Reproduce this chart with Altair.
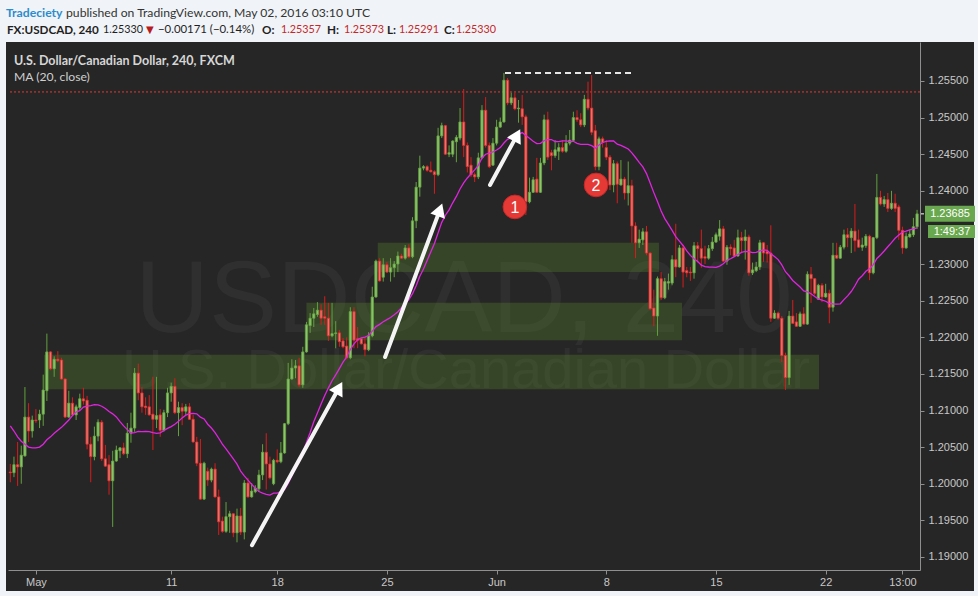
import altair as alt
import pandas as pd

# ---------------------------------------------------------------
# FX:USDCAD, 240 (4-hour) candles, bar index 0 = first bar shown
# ---------------------------------------------------------------
opens = [
    1.2016, 1.2015, 1.2026, 1.2023, 1.2038, 1.2091, 1.2072, 1.2087, 1.2087, 1.2095,
    1.2127, 1.2180, 1.2157, 1.2170, 1.2169, 1.2143, 1.2091, 1.2110, 1.2094, 1.2104,
    1.2116, 1.2114, 1.2054, 1.2037, 1.2065, 1.2084, 1.2034, 1.2026, 1.2004, 1.2031,
    1.2045, 1.2049, 1.2041, 1.2069, 1.2076, 1.2151, 1.2124, 1.2106, 1.2105, 1.2095,
    1.2088, 1.2094, 1.2073, 1.2097, 1.2124, 1.2133, 1.2097, 1.2104, 1.2099, 1.2105,
    1.2088, 1.2057, 1.2028, 1.1979, 1.2017, 1.2005, 1.2020, 1.1982, 1.1949, 1.1935,
    1.1955, 1.1959, 1.1933, 1.1956, 1.1934, 1.2001, 1.1982, 1.1989, 1.1993, 1.2012,
    1.2043, 1.2027, 1.2000, 1.2032, 1.2030, 1.2042, 1.2082, 1.2143, 1.2158, 1.2161,
    1.2135, 1.2180, 1.2216, 1.2226, 1.2231, 1.2237, 1.2228, 1.2226, 1.2202, 1.2205,
    1.2206, 1.2195, 1.2188, 1.2172, 1.2235, 1.2198, 1.2198, 1.2191, 1.2183, 1.2202,
    1.2255, 1.2304, 1.2282, 1.2299, 1.2289, 1.2295, 1.2300, 1.2311, 1.2308, 1.2322,
    1.2310, 1.2359, 1.2405, 1.2431, 1.2433, 1.2428, 1.2426, 1.2422, 1.2475, 1.2489,
    1.2450, 1.2450, 1.2467, 1.2472, 1.2494, 1.2462, 1.2435, 1.2422, 1.2419, 1.2445,
    1.2510, 1.2462, 1.2435, 1.2465, 1.2487, 1.2494, 1.2551, 1.2520, 1.2527, 1.2512,
    1.2512, 1.2501, 1.2385, 1.2398, 1.2416, 1.2398, 1.2438, 1.2497, 1.2452, 1.2448,
    1.2454, 1.2459, 1.2454, 1.2465, 1.2469, 1.2500, 1.2497, 1.2490, 1.2525, 1.2513,
    1.2482, 1.2433, 1.2471, 1.2459, 1.2446, 1.2408, 1.2437, 1.2408, 1.2416, 1.2397,
    1.2407, 1.2352, 1.2329, 1.2333, 1.2344, 1.2315, 1.2240, 1.2229, 1.2280, 1.2254,
    1.2274, 1.2274, 1.2306, 1.2296, 1.2322, 1.2291, 1.2289, 1.2288, 1.2325, 1.2321,
    1.2310, 1.2308, 1.2321, 1.2330, 1.2338, 1.2348, 1.2304, 1.2323, 1.2322, 1.2311,
    1.2336, 1.2332, 1.2337, 1.2288, 1.2291, 1.2296, 1.2329, 1.2317, 1.2315, 1.2226,
    1.2233, 1.2226, 1.2175, 1.2145, 1.2229, 1.2221, 1.2215, 1.2232, 1.2218, 1.2286,
    1.2280, 1.2252, 1.2271, 1.2255, 1.2260, 1.2241, 1.2312, 1.2308, 1.2323, 1.2340,
    1.2336, 1.2345, 1.2333, 1.2323, 1.2325, 1.2338, 1.2288, 1.2336, 1.2391, 1.2382,
    1.2388, 1.2376, 1.2383, 1.2378, 1.2346, 1.2322, 1.2337, 1.2340, 1.2351,
]
highs = [
    1.2027, 1.2037, 1.2057, 1.2052, 1.2132, 1.2110, 1.2093, 1.2102, 1.2101, 1.2149,
    1.2205, 1.2181, 1.2174, 1.2181, 1.2172, 1.2144, 1.2127, 1.2118, 1.2108, 1.2123,
    1.2131, 1.2120, 1.2064, 1.2078, 1.2088, 1.2087, 1.2053, 1.2039, 1.2045, 1.2052,
    1.2050, 1.2056, 1.2083, 1.2097, 1.2158, 1.2164, 1.2132, 1.2118, 1.2121, 1.2146,
    1.2146, 1.2102, 1.2101, 1.2131, 1.2138, 1.2144, 1.2112, 1.2110, 1.2109, 1.2110,
    1.2094, 1.2064, 1.2061, 1.2030, 1.2022, 1.2022, 1.2028, 1.1992, 1.1955, 1.1975,
    1.1963, 1.1960, 1.1966, 1.1967, 1.2005, 1.2008, 1.2001, 1.1998, 1.2019, 1.2054,
    1.2069, 1.2037, 1.2034, 1.2047, 1.2057, 1.2083, 1.2165, 1.2170, 1.2169, 1.2172,
    1.2187, 1.2221, 1.2233, 1.2240, 1.2248, 1.2245, 1.2256, 1.2247, 1.2247, 1.2222,
    1.2210, 1.2199, 1.2200, 1.2241, 1.2241, 1.2214, 1.2200, 1.2200, 1.2207, 1.2269,
    1.2306, 1.2308, 1.2308, 1.2303, 1.2308, 1.2304, 1.2317, 1.2314, 1.2326, 1.2327,
    1.2364, 1.2412, 1.2448, 1.2435, 1.2435, 1.2440, 1.2428, 1.2486, 1.2493, 1.2490,
    1.2462, 1.2469, 1.2476, 1.2513, 1.2539, 1.2466, 1.2446, 1.2425, 1.2452, 1.2517,
    1.2528, 1.2466, 1.2472, 1.2497, 1.2500, 1.2561, 1.2554, 1.2534, 1.2534, 1.2524,
    1.2531, 1.2504, 1.2418, 1.2419, 1.2445, 1.2445, 1.2504, 1.2508, 1.2456, 1.2469,
    1.2465, 1.2469, 1.2476, 1.2483, 1.2508, 1.2510, 1.2506, 1.2531, 1.2549, 1.2558,
    1.2490, 1.2474, 1.2474, 1.2469, 1.2449, 1.2442, 1.2440, 1.2442, 1.2419, 1.2440,
    1.2415, 1.2357, 1.2347, 1.2349, 1.2352, 1.2316, 1.2265, 1.2283, 1.2289, 1.2281,
    1.2287, 1.2312, 1.2355, 1.2326, 1.2326, 1.2296, 1.2296, 1.2330, 1.2330, 1.2347,
    1.2325, 1.2326, 1.2337, 1.2343, 1.2360, 1.2352, 1.2326, 1.2327, 1.2333, 1.2347,
    1.2344, 1.2347, 1.2340, 1.2302, 1.2303, 1.2333, 1.2330, 1.2326, 1.2353, 1.2237,
    1.2235, 1.2229, 1.2179, 1.2236, 1.2251, 1.2233, 1.2235, 1.2241, 1.2290, 1.2296,
    1.2281, 1.2273, 1.2274, 1.2273, 1.2265, 1.2329, 1.2329, 1.2326, 1.2347, 1.2349,
    1.2349, 1.2382, 1.2347, 1.2336, 1.2341, 1.2340, 1.2337, 1.2423, 1.2400, 1.2393,
    1.2397, 1.2400, 1.2396, 1.2381, 1.2351, 1.2343, 1.2347, 1.2363, 1.2374,
]
lows = [
    1.2002, 1.2009, 1.1997, 1.2000, 1.2037, 1.2057, 1.2063, 1.2083, 1.2076, 1.2079,
    1.2113, 1.2155, 1.2146, 1.2166, 1.2142, 1.2090, 1.2090, 1.2093, 1.2087, 1.2101,
    1.2108, 1.2047, 1.2002, 1.2032, 1.2058, 1.2031, 1.2023, 1.1985, 1.1941, 1.2030,
    1.2035, 1.2039, 1.2035, 1.2056, 1.2071, 1.2114, 1.2097, 1.2094, 1.2093, 1.2046,
    1.2076, 1.2064, 1.2071, 1.2091, 1.2112, 1.2095, 1.2065, 1.2080, 1.2094, 1.2087,
    1.2056, 1.2024, 1.1978, 1.1978, 1.1997, 1.2002, 1.1981, 1.1930, 1.1933, 1.1933,
    1.1933, 1.1927, 1.1920, 1.1930, 1.1924, 1.1981, 1.1981, 1.1987, 1.1989, 1.2005,
    1.1992, 1.2006, 1.1998, 1.2028, 1.2028, 1.2041, 1.2080, 1.2142, 1.2144, 1.2132,
    1.2131, 1.2179, 1.2206, 1.2214, 1.2228, 1.2217, 1.2217, 1.2195, 1.2200, 1.2185,
    1.2187, 1.2185, 1.2170, 1.2170, 1.2185, 1.2185, 1.2190, 1.2174, 1.2181, 1.2200,
    1.2254, 1.2276, 1.2276, 1.2288, 1.2276, 1.2282, 1.2289, 1.2307, 1.2306, 1.2308,
    1.2308, 1.2349, 1.2392, 1.2428, 1.2426, 1.2425, 1.2396, 1.2420, 1.2472, 1.2449,
    1.2446, 1.2446, 1.2439, 1.2469, 1.2446, 1.2425, 1.2419, 1.2412, 1.2416, 1.2443,
    1.2459, 1.2431, 1.2434, 1.2462, 1.2486, 1.2493, 1.2517, 1.2517, 1.2510, 1.2493,
    1.2490, 1.2367, 1.2383, 1.2397, 1.2397, 1.2397, 1.2435, 1.2442, 1.2428, 1.2445,
    1.2442, 1.2452, 1.2452, 1.2462, 1.2467, 1.2494, 1.2487, 1.2487, 1.2510, 1.2476,
    1.2428, 1.2428, 1.2459, 1.2442, 1.2401, 1.2398, 1.2383, 1.2407, 1.2388, 1.2380,
    1.2329, 1.2308, 1.2322, 1.2326, 1.2312, 1.2237, 1.2215, 1.2202, 1.2251, 1.2252,
    1.2265, 1.2271, 1.2282, 1.2295, 1.2268, 1.2282, 1.2277, 1.2280, 1.2302, 1.2295,
    1.2300, 1.2306, 1.2318, 1.2329, 1.2332, 1.2303, 1.2299, 1.2312, 1.2310, 1.2310,
    1.2315, 1.2306, 1.2284, 1.2285, 1.2289, 1.2292, 1.2303, 1.2302, 1.2221, 1.2225,
    1.2224, 1.2166, 1.2128, 1.2135, 1.2218, 1.2214, 1.2214, 1.2217, 1.2217, 1.2247,
    1.2257, 1.2251, 1.2248, 1.2254, 1.2219, 1.2235, 1.2307, 1.2307, 1.2320, 1.2323,
    1.2315, 1.2317, 1.2322, 1.2318, 1.2322, 1.2278, 1.2286, 1.2334, 1.2380, 1.2378,
    1.2371, 1.2374, 1.2371, 1.2333, 1.2314, 1.2321, 1.2336, 1.2337, 1.2348,
]
closes = [
    1.2015, 1.2026, 1.2023, 1.2039, 1.2091, 1.2072, 1.2087, 1.2086, 1.2095, 1.2128,
    1.2180, 1.2157, 1.2170, 1.2168, 1.2143, 1.2091, 1.2110, 1.2094, 1.2105, 1.2116,
    1.2113, 1.2054, 1.2037, 1.2065, 1.2084, 1.2034, 1.2024, 1.2004, 1.2031, 1.2046,
    1.2049, 1.2041, 1.2069, 1.2076, 1.2151, 1.2124, 1.2105, 1.2104, 1.2094, 1.2088,
    1.2093, 1.2073, 1.2097, 1.2124, 1.2133, 1.2097, 1.2104, 1.2099, 1.2105, 1.2088,
    1.2057, 1.2028, 1.1979, 1.2028, 1.2005, 1.2020, 1.1982, 1.1948, 1.1935, 1.1955,
    1.1959, 1.1933, 1.1956, 1.1934, 1.2001, 1.1982, 1.1990, 1.1994, 1.2012, 1.2043,
    1.2027, 1.2008, 1.2032, 1.2030, 1.2042, 1.2082, 1.2143, 1.2158, 1.2161, 1.2135,
    1.2180, 1.2217, 1.2226, 1.2232, 1.2237, 1.2226, 1.2226, 1.2202, 1.2205, 1.2206,
    1.2194, 1.2187, 1.2172, 1.2235, 1.2196, 1.2196, 1.2191, 1.2183, 1.2202, 1.2255,
    1.2304, 1.2277, 1.2299, 1.2289, 1.2295, 1.2300, 1.2311, 1.2308, 1.2322, 1.2310,
    1.2359, 1.2405, 1.2431, 1.2433, 1.2428, 1.2426, 1.2422, 1.2475, 1.2489, 1.2450,
    1.2452, 1.2468, 1.2473, 1.2494, 1.2462, 1.2433, 1.2422, 1.2419, 1.2445, 1.2510,
    1.2462, 1.2433, 1.2465, 1.2487, 1.2494, 1.2551, 1.2520, 1.2527, 1.2512, 1.2513,
    1.2501, 1.2385, 1.2398, 1.2415, 1.2398, 1.2438, 1.2497, 1.2446, 1.2448, 1.2456,
    1.2459, 1.2454, 1.2465, 1.2469, 1.2500, 1.2497, 1.2490, 1.2525, 1.2513, 1.2480,
    1.2433, 1.2471, 1.2466, 1.2446, 1.2408, 1.2437, 1.2409, 1.2416, 1.2397, 1.2407,
    1.2352, 1.2329, 1.2334, 1.2344, 1.2315, 1.2239, 1.2229, 1.2280, 1.2254, 1.2276,
    1.2276, 1.2306, 1.2296, 1.2322, 1.2289, 1.2288, 1.2288, 1.2325, 1.2321, 1.2308,
    1.2308, 1.2321, 1.2330, 1.2340, 1.2348, 1.2304, 1.2323, 1.2321, 1.2311, 1.2336,
    1.2332, 1.2337, 1.2288, 1.2292, 1.2296, 1.2329, 1.2315, 1.2314, 1.2226, 1.2233,
    1.2226, 1.2175, 1.2145, 1.2229, 1.2219, 1.2215, 1.2232, 1.2218, 1.2286, 1.2280,
    1.2260, 1.2271, 1.2255, 1.2260, 1.2241, 1.2312, 1.2308, 1.2323, 1.2340, 1.2336,
    1.2345, 1.2332, 1.2323, 1.2326, 1.2338, 1.2288, 1.2336, 1.2391, 1.2382, 1.2388,
    1.2376, 1.2383, 1.2376, 1.2346, 1.2322, 1.2338, 1.2341, 1.2351, 1.23685,
]

# MA(20, close) for the first 19 bars (their window reaches back before bar 0)
ma_lead = [
    1.2079, 1.2072, 1.2064, 1.2058, 1.2054, 1.2050, 1.2049, 1.2049, 1.2050, 1.2054,
    1.2060, 1.2064, 1.2069, 1.2073, 1.2077, 1.2082, 1.2087, 1.2093, 1.2098,
]
MA_LEN = 20

# axes (1.23500 sits under the last-price tag, so it is not labelled)
price_ticks = [1.190, 1.195, 1.200, 1.205, 1.210, 1.215, 1.220, 1.225,
               1.230, 1.240, 1.245, 1.250, 1.255]
date_ticks = [7, 44, 73, 103, 133, 163, 193, 223, 244]
date_labels = ["May", "11", "18", "25", "Jun", "8", "15", "22", "13:00"]

# support / resistance zones (bar range, price range)
zone_from = [100.5, 81.0, 9.2]
zone_to = [177.4, 183.7, 221.2]
zone_lo = [1.2289, 1.2196, 1.2129]
zone_hi = [1.2329, 1.2247, 1.2176]

resistance_level = 1.2535
top_level = 1.2561
top_from, top_to = 135.3, 170.0

# trend arrows (start bar/price -> head bar/price)
arrow_i0 = [66.1, 102.5, 131.2]
arrow_p0 = [1.1916, 1.2173, 1.2408]
arrow_i1 = [89.9, 117.5, 138.6]
arrow_p1 = [1.2131, 1.2374, 1.2476]
arrow_angle = [29, 20, 28]

# numbered markers
marker_i = [138.0, 160.2]
marker_p = [1.2378, 1.2408]
marker_txt = ["1", "2"]

last_price = 1.23685
countdown = "1:49:37"

# header strings
author = "Tradeciety"
published = "published on TradingView.com, May 02, 2016 03:10 UTC"
symbol = "FX:USDCAD, 240"
quote_last = "1.25330"
quote_change = "\u22120.00171 (\u22120.14%)"
ohlc_keys = ["O:", "H:", "L:", "C:"]
ohlc_vals = ["1.25357", "1.25373", "1.25291", "1.25330"]
pane_title = "U.S. Dollar/Canadian Dollar, 240, FXCM"
study_title = "MA (20, close)"
watermark_big = "USDCAD, 240"
watermark_small = "U.S. Dollar/Canadian Dollar"

# ---------------------------------------------------------------
n = len(closes)
df = pd.DataFrame({"i": list(range(n)), "open": opens, "high": highs,
                   "low": lows, "close": closes})
df["dir"] = ["up" if c >= o else "down" for o, c in zip(opens, closes)]
df["l"] = df["i"] - 0.31
df["r"] = df["i"] + 0.31
ma = pd.Series(closes, dtype=float).rolling(MA_LEN).mean()
ma.iloc[:MA_LEN - 1] = ma_lead
df["ma"] = ma.values

zones = pd.DataFrame({"a": zone_from, "b": zone_to, "lo": zone_lo, "hi": zone_hi})
arrows = pd.DataFrame({"i0": arrow_i0, "p0": arrow_p0, "i1": arrow_i1,
                       "p1": arrow_p1, "ang": arrow_angle})
markers = pd.DataFrame({"i": marker_i, "p": marker_p, "t": marker_txt})
ONE = pd.DataFrame({"k": [0]})

PANE = "#262626"
AXIS_GREY = "#8f8f8f"
LABEL_GREY = "#c8c8c8"

W, H = 912, 528
OX, OY = 8, 42  # plot origin on the page

XS = alt.Scale(domain=[-0.63, 248.8], nice=False, zero=False)
YS = alt.Scale(domain=[1.18822, 1.26032], nice=False, zero=False)

label_expr = "''"
for v, t in reversed(list(zip(date_ticks, date_labels))):
    label_expr = f"datum.value == {v} ? '{t}' : {label_expr}"

XAX = alt.Axis(values=date_ticks, labelExpr=label_expr, title=None, grid=False,
               domainColor=AXIS_GREY, tickColor=AXIS_GREY, labelColor=LABEL_GREY,
               labelFont="Liberation Sans", labelFontSize=11, tickSize=4,
               labelPadding=2, labelFlush=False, labelOverlap=False, zindex=1)
YAX = alt.Axis(orient="right", values=price_ticks, format=".5f", title=None,
               grid=False, domainColor=AXIS_GREY, tickColor=AXIS_GREY,
               labelColor=LABEL_GREY, labelFont="Liberation Sans",
               labelFontSize=11, tickSize=4, labelPadding=4, labelOverlap=False,
               zindex=1)


def X(field):
    return alt.X(field, type="quantitative", scale=XS, axis=XAX)


def Y(field):
    return alt.Y(field, type="quantitative", scale=YS, axis=YAX)


def note(text, x, y, size=12, color="#333333", weight="normal", font="Lato",
         align="left", baseline="middle"):
    return alt.Chart(ONE).mark_text(
        text=text, fontSize=size, color=color, fontWeight=weight, font=font,
        align=align, baseline=baseline,
    ).encode(x=alt.value(x - OX), y=alt.value(y - OY))


# dark pane behind plot and both axes
pane = alt.Chart(ONE).mark_rect(color=PANE).encode(
    x=alt.value(6 - OX), x2=alt.value(974 - OX),
    y=alt.value(42 - OY), y2=alt.value(591 - OY))

wm1 = note(watermark_big, 464, 332, size=102, color="#2f2f2f",
           font="Liberation Sans", align="center", baseline="alphabetic")
wm2 = note(watermark_small, 466, 388, size=56, color="#2f2f2f",
           font="Liberation Sans", align="center", baseline="alphabetic")

zone_layer = alt.Chart(zones).mark_rect(fill="#5b8a2e", opacity=0.32).encode(
    x=X("a"), x2="b", y=Y("lo"), y2="hi")

res_line = alt.Chart(pd.DataFrame({"p": [resistance_level]})).mark_rule(
    color="#e53935", strokeDash=[2, 2], strokeWidth=1).encode(y=Y("p"))

top_line = alt.Chart(pd.DataFrame({"a": [top_from], "b": [top_to],
                                   "p": [top_level]})).mark_rule(
    color="#e6e6e6", strokeDash=[6, 4], strokeWidth=2).encode(
    x=X("a"), x2="b", y=Y("p"))

wicks = alt.Chart(df).mark_rule(strokeWidth=1).encode(
    x=X("i"), y=Y("low"), y2="high",
    color=alt.Color("dir:N", legend=None,
                    scale=alt.Scale(domain=["up", "down"],
                                    range=["#63a03f", "#d81c1c"])))

bodies = alt.Chart(df).mark_rect(strokeWidth=0.8).encode(
    x=X("l"), x2="r", y=Y("open"), y2="close",
    fill=alt.Fill("dir:N", legend=None,
                  scale=alt.Scale(domain=["up", "down"],
                                  range=["#8cc56c", "#ec736b"])),
    stroke=alt.Stroke("dir:N", legend=None,
                      scale=alt.Scale(domain=["up", "down"],
                                      range=["#66a443", "#e02e2e"])))

ma_line = alt.Chart(df).mark_line(color="#e024e0", strokeWidth=1.3).encode(
    x=X("i"), y=Y("ma"))

arrow_shafts = alt.Chart(arrows).mark_rule(
    color="white", strokeWidth=4, strokeCap="round", opacity=0.95).encode(
    x=X("i0"), y=Y("p0"), x2="i1", y2="p1")
arrow_heads = alt.Chart(arrows).mark_point(
    shape="triangle-up", filled=True, size=240, color="white", opacity=1).encode(
    x=X("i1"), y=Y("p1"), angle=alt.Angle("ang:Q", scale=None))

marker_dots = alt.Chart(markers).mark_circle(
    size=560, color="#e53935", opacity=1, stroke="#c62828", strokeWidth=1).encode(
    x=X("i"), y=Y("p"))
marker_nums = alt.Chart(markers).mark_text(
    color="white", fontSize=16, font="Liberation Sans", baseline="middle",
    align="center", dy=1).encode(x=X("i"), y=Y("p"), text="t:N")

# last-price tag and bar countdown on the price scale
last_df = pd.DataFrame({"p": [last_price], "t": [f"{last_price:.5f}"],
                        "c": [countdown]})
tag = alt.Chart(last_df).mark_point(
    shape="M-1,-0.32L1,-0.32L1,0.32L-1,0.32Z", size=2500, filled=True,
    color="#6aa84f", opacity=1).encode(x=alt.value(950 - OX), y=Y("p"))
tag2 = alt.Chart(last_df).mark_point(
    shape="M-0.88,0.45L1,0.45L1,0.97L-0.88,0.97Z", size=2500, filled=True,
    color="#6aa84f", opacity=1).encode(x=alt.value(950 - OX), y=Y("p"))
tag_txt = alt.Chart(last_df).mark_text(
    color="white", fontSize=11, font="Liberation Sans", align="center",
    baseline="middle").encode(x=alt.value(950 - OX), y=Y("p"), text="t:N")
tag2_txt = alt.Chart(last_df).mark_text(
    color="white", fontSize=11, font="Liberation Sans", align="center",
    baseline="middle", dy=18).encode(x=alt.value(952 - OX), y=Y("p"), text="c:N")
price_tick = alt.Chart(last_df).mark_rule(color="white", strokeWidth=1).encode(
    x=alt.value(920 - OX), x2=alt.value(924 - OX), y=Y("p"))

# header
header = [
    note(author, 6, 13, size=12.2, color="#2d8ccb", weight="bold"),
    note(published, 66, 13, size=12.2, color="#333333"),
    note(symbol, 7, 30, size=11.7, color="#1f1f1f", weight="bold"),
    note(quote_last, 103, 30, size=10.8, color="#1f1f1f"),
    note("\u25bc", 146, 30, size=10, color="#b71c1c", font="DejaVu Sans"),
    note(quote_change, 158, 30, size=11.4, color="#1f1f1f"),
]
key_x = [262, 327, 387, 444]
val_x = [281, 344, 399, 456]
for k, v, kx, vx in zip(ohlc_keys, ohlc_vals, key_x, val_x):
    header.append(note(k, kx, 30, size=11.7, color="#1f1f1f", weight="bold"))
    header.append(note(v, vx, 30, size=10.8, color="#c62828"))

pane_labels = [
    note(pane_title, 14, 61, size=12.5, color="#d6d6d6", weight="bold"),
    note(study_title, 14, 77, size=12.2, color="#cfcfcf"),
]

chart = alt.layer(
    pane, wm1, wm2, zone_layer, res_line, top_line, wicks, bodies, ma_line,
    arrow_shafts, arrow_heads, marker_dots, marker_nums,
    tag, tag2, tag_txt, tag2_txt, price_tick, *header, *pane_labels,
).properties(
    width=W, height=H, background="#f0f3f7",
    padding={"left": OX, "top": OY, "right": 978 - OX - W, "bottom": 596 - OY - H},
    autosize=alt.AutoSizeParams(type="none"),
).configure_view(stroke=None, fill=PANE)

chart.save("out.html", embed_options={"renderer": "svg", "actions": False})
